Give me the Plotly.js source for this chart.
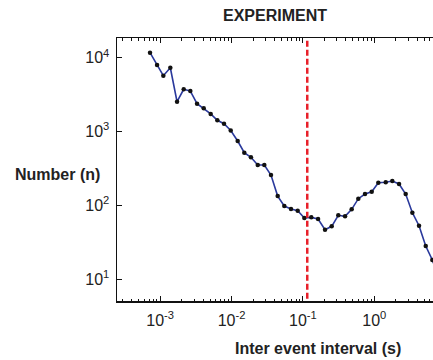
<!DOCTYPE html>
<html>
<head>
<meta charset="utf-8">
<script src="https://cdn.plot.ly/plotly-3.0.1.min.js"></script>
<style>html,body{margin:0;padding:0;background:#fff;}#chart{width:433px;height:360px;}</style>
</head>
<body>
<div id="chart"></div>
<script>
// Inter event interval bins (s)
const intervals = [7.22e-4, 9.06e-4, 1.109e-3, 1.39e-3, 1.726e-3, 2.14e-3, 2.65e-3, 3.29e-3, 4.08e-3, 5.11e-3,
  6.33e-3, 7.85e-3, 9.75e-3, 1.22e-2, 1.51e-2, 1.87e-2, 2.33e-2, 2.88e-2, 3.57e-2, 4.43e-2,
  5.49e-2, 6.81e-2, 8.45e-2, 0.1047, 0.131, 0.163, 0.204, 0.253, 0.313, 0.389,
  0.482, 0.597, 0.741, 0.920, 1.138, 1.445, 1.787, 2.22, 2.75, 3.41,
  4.23, 5.25, 6.49, 8.05];
// Number of events per bin
const counts = [11690, 7960, 5700, 7310, 2530, 3730, 3530, 2380, 2060, 1726,
  1416, 1274, 1030, 743, 515, 447, 351, 351, 257, 133,
  97.7, 88.9, 84.4, 67.1, 68.5, 65.0, 46.6, 51.8, 73.1, 70.8,
  88.1, 122.7, 141.9, 152.4, 202, 204.5, 212.8, 194, 141.9, 79.3,
  52.8, 28.0, 18.1, 10.5];
// Threshold interval (s)
const threshold = 0.115;
const xTickVals = [0.001, 0.01, 0.1, 1];
const xTickText = ['10<sup>-3</sup>', '10<sup>-2</sup>', '10<sup>-1</sup>', '10<sup>0</sup>'];
const yTickVals = [10, 100, 1000, 10000];
const yTickText = ['10<sup>1</sup>', '10<sup>2</sup>', '10<sup>3</sup>', '10<sup>4</sup>'];
const minorDecades = [0.0001, 0.001, 0.01, 0.1, 1];
const minorMults = [2, 3, 4, 5, 6, 7, 8, 9];
const xMinorVals = [];
minorDecades.forEach(d => minorMults.forEach(m => xMinorVals.push(d * m)));

const FONT = 'Liberation Sans, Arial, Helvetica, sans-serif';
const W = 433, H = 360, L = 117, T = 38, B = 59, R = 0;
const pw = W - L - R, ph = H - T - B;

const traces = [
  {
    x: intervals, y: counts, type: 'scatter', mode: 'lines+markers',
    line: {color: '#2a399c', width: 1.6},
    marker: {color: '#111', size: 4.5},
    hoverinfo: 'skip', showlegend: false
  },
  {
    x: [threshold, threshold], y: [1, 100000], type: 'scatter', mode: 'lines',
    line: {color: '#e8202a', width: 2.5, dash: '6px,3px'},
    hoverinfo: 'skip', showlegend: false
  }
];

const layout = {
  width: W, height: H,
  margin: {l: L, r: R, t: T, b: B, pad: 0},
  paper_bgcolor: '#fff', plot_bgcolor: '#fff',
  font: {family: FONT, color: '#222', size: 16},
  showlegend: false,
  title: {text: '<b>EXPERIMENT</b>', font: {family: FONT, size: 16, color: '#222'},
    xref: 'paper', x: 0.5, xanchor: 'center', yref: 'container', y: 1 - 15 / H, yanchor: 'middle'},
  xaxis: {
    type: 'log', range: [-3.604, 0.822],
    showline: true, linecolor: '#111', linewidth: 1.5, mirror: 'allticks',
    ticks: 'inside', ticklen: 5, tickwidth: 1, tickcolor: '#111',
    tickvals: xTickVals, ticktext: xTickText,
    tickfont: {family: FONT, size: 16, color: '#222'},
    ticklabelstandoff: 4,
    minor: {tickmode: 'array', tickvals: xMinorVals, ticks: 'inside', ticklen: 2.5, tickwidth: 1, tickcolor: '#111', showgrid: false},
    showgrid: false, zeroline: false, fixedrange: true
  },
  yaxis: {
    type: 'log', range: [0.702, 4.267],
    showline: true, linecolor: '#111', linewidth: 1.5, mirror: false,
    ticks: 'inside', ticklen: 5, tickwidth: 1, tickcolor: '#111',
    tickvals: yTickVals, ticktext: yTickText,
    tickfont: {family: FONT, size: 16, color: '#222'},
    ticklabelstandoff: 3,
    showgrid: false, zeroline: false, fixedrange: true
  },
  annotations: [
    {text: '<b>Number (n)</b>', xref: 'paper', yref: 'paper',
      x: (13 - L) / pw, xanchor: 'left', y: (H - B - 174) / ph, yanchor: 'middle',
      showarrow: false, font: {family: FONT, size: 16, color: '#222'}},
    {text: '<b>Inter event interval (s)</b>', xref: 'paper', yref: 'paper',
      x: (317.5 - L) / pw, xanchor: 'center', y: (H - B - 348) / ph, yanchor: 'middle',
      showarrow: false, font: {family: FONT, size: 16, color: '#222'}}
  ]
};

Plotly.newPlot('chart', traces, layout, {staticPlot: true, displayModeBar: false});
</script>
</body>
</html>
